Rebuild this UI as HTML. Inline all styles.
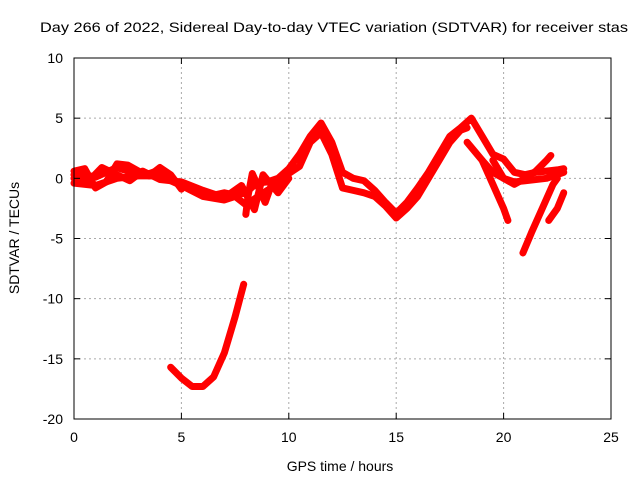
<!DOCTYPE html>
<html><head><meta charset="utf-8"><style>
body{margin:0;background:#fff}
svg{display:block;font-family:"Liberation Sans",sans-serif}
</style></head><body>
<svg id="chart" width="640" height="480" viewBox="0 0 640 480">
<rect width="640" height="480" fill="#fff"/>
<text x="40" y="32" font-size="14" textLength="588" lengthAdjust="spacingAndGlyphs">Day 266 of 2022, Sidereal Day-to-day VTEC variation (SDTVAR) for receiver stas</text>
<g id="grid"></g>
<g id="series"></g>
<rect x="74" y="58" width="537" height="361" fill="none" stroke="#000" stroke-width="1"/>
<g id="ticks"></g>
<text x="340" y="471" font-size="14" text-anchor="middle">GPS time / hours</text>
<text transform="translate(19,238) rotate(-90)" font-size="14" text-anchor="middle">SDTVAR / TECUs</text>
</svg>
<script>
const xTicks=[0,5,10,15,20,25];
const yTicks=[10,5,0,-5,-10,-15,-20];
const trackA=[[0,0],[0.5,0.3],[1,0.1],[1.5,0.5],[2,0.9],[2.5,0.6],[3,0.3],[3.5,0.4],[4,0.7],[4.5,0],[5,-0.5],[5.5,-0.8],[6,-1.2],[6.5,-1.4],[7,-1.2],[7.5,-1.4],[8,-1.2],[8.5,-0.4],[9,-0.3],[9.5,0],[10,0.8],[10.5,2],[11,3.5],[11.5,4.6],[12,3],[12.5,0.5],[13,0],[13.5,-0.2],[14,-1],[14.5,-2],[15,-2.9],[15.5,-2],[16,-0.8],[16.5,0.5],[17,2],[17.5,3.5],[18,4.2],[18.5,5],[19,3.5],[19.5,2],[20,1.6],[20.5,0.5],[21,0.3],[21.5,0.5],[22,0.6],[22.5,0.7],[22.8,0.8]];
const trackB=[[0,-0.4],[1,-0.6],[2,0],[3,0.2],[4,0.2],[5,-0.6],[6,-1.5],[7,-1.8],[7.5,-1.5],[8,-2.2],[8.5,-1.6],[9,-1],[9.5,-0.5],[10,0.4],[10.5,1],[11,3],[11.5,3.8],[12,2],[12.5,-0.8],[13,-1],[13.5,-1.2],[14,-1.5],[14.5,-2.3],[15,-3.3],[15.5,-2.5],[16,-1.5],[16.5,0],[17,1.5],[17.5,3],[18,4],[18.3,4.2]];
const trackC=[[18.3,3],[19,1.5],[19.5,-0.5],[20,-2.5],[20.2,-3.5]];
const trackD=[[19.5,1.5],[20,0],[20.5,-0.5],[21,0],[21.5,0.6],[22,1.5],[22.2,1.9]];
const trackE=[[20.9,-6.2],[21.3,-4.5],[21.8,-2.5],[22.3,-0.5],[22.5,0]];
const trackF=[[22.1,-3.5],[22.5,-2.5],[22.8,-1.2]];
const trackG=[[19,1.5],[19.5,0.5],[20,0],[20.5,-0.3],[21,-0.2],[22,0],[22.8,0.5]];
const trackH=[[4.5,-15.7],[5,-16.6],[5.5,-17.3],[6,-17.3],[6.5,-16.5],[7,-14.5],[7.5,-11.5],[7.9,-8.8]];
const trackI=[[8,-3],[8.1,-1.5],[8.3,0.4],[8.6,-0.8],[8.9,-2],[9.2,-0.5]];
const trackJ=[[0,0.6],[0.5,0.8],[1,-0.8],[1.5,-0.3],[2,1.2],[2.5,1.1],[3,0.6],[3.5,0.2],[4,0.9],[4.5,0.3],[5,-0.9]];
const trackK=[[0,0.3],[0.7,-0.2],[1.3,0.9],[2,0.3],[2.6,-0.2],[3.2,0.6],[4,-0.1],[5,-0.3],[6,-1],[7,-1.6],[7.8,-0.6],[8.4,-2.6],[8.8,0.3],[9.5,-1.2],[10,0]];
const tracks=[trackA,trackB,trackC,trackD,trackE,trackF,trackG,trackH,trackI,trackJ,trackK];
const NS='http://www.w3.org/2000/svg';
const X0=74,X1=611,Y0=419,Y1=58;
const xs=v=>X0+(v-0)/(25-0)*(X1-X0);
const ys=v=>Y0-(v+20)/30*(Y0-Y1);
const grid=document.getElementById('grid'),ticks=document.getElementById('ticks'),ser=document.getElementById('series');
function mk(t,a,p){const e=document.createElementNS(NS,t);for(const k in a)e.setAttribute(k,a[k]);p.appendChild(e);return e;}
xTicks.forEach(v=>{const x=xs(v);
 if(v>0&&v<25){const g=mk('line',{x1:x,x2:x,y1:Y0,y2:Y1,stroke:'#aaa','stroke-dasharray':'2,3'},grid);
 
 }
 mk('line',{x1:x,x2:x,y1:Y0,y2:Y0-6,stroke:'#000'},ticks);mk('line',{x1:x,x2:x,y1:Y1,y2:Y1+6,stroke:'#000'},ticks);
 const t=mk('text',{x:x,y:Y0+23,'font-size':14,'text-anchor':'middle'},ticks);t.textContent=v;
 
 });
yTicks.forEach(v=>{const y=ys(v);
 if(v>-20&&v<10){const g=mk('line',{x1:X0,x2:X1,y1:y,y2:y,stroke:'#aaa','stroke-dasharray':'2,3'},grid);
 
 }
 mk('line',{x1:X0,x2:X0+6,y1:y,y2:y,stroke:'#000'},ticks);mk('line',{x1:X1,x2:X1-6,y1:y,y2:y,stroke:'#000'},ticks);
 const t=mk('text',{x:X0-11,y:y+5,'font-size':14,'text-anchor':'end'},ticks);t.textContent=v;
 
 });
tracks.forEach((tr,i)=>{
 const pts=tr.map(p=>xs(p[0])+','+ys(p[1])).join(' ');
 const pl=mk('polyline',{points:pts,fill:'none',stroke:'#f00','stroke-width':7,'stroke-linejoin':'round','stroke-linecap':'round'},ser);
 
 
});
</script>
</body></html>
